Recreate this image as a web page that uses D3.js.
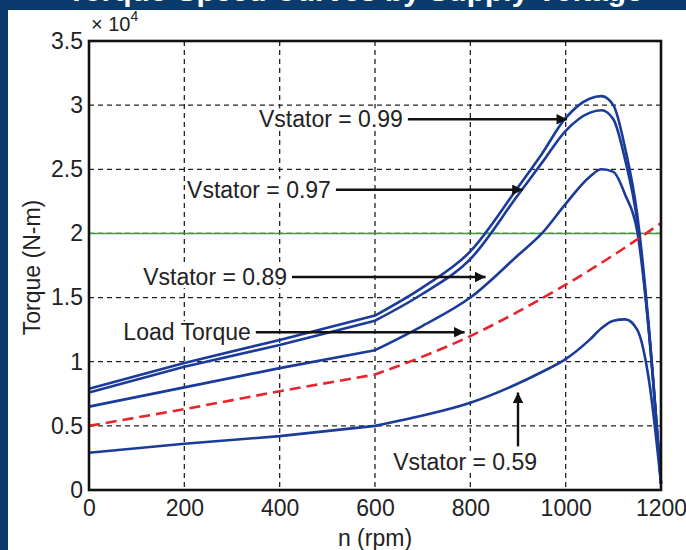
<!DOCTYPE html>
<html>
<head>
<meta charset="utf-8">
<script src="https://cdn.jsdelivr.net/npm/d3@7"></script>
<style>
  html, body { margin: 0; padding: 0; background: #0b3a6c; }
  svg { display: block; }
  text { font-family: "Liberation Sans", Arial, sans-serif; }
</style>
</head>
<body>
<div id="chart"></div>
<script>
// speed points (rpm)
var speeds = [0, 200, 400, 600, 700, 800, 900, 950, 1000, 1050, 1075, 1100, 1125, 1150, 1175, 1200];

// torque, x 10^4 N-m
var v099 = [0.79, 0.99, 1.17, 1.36, 1.58, 1.86, 2.36, 2.62, 2.90, 3.05, 3.07, 3.00, 2.66, 2.15, 1.25, 0.05];
var v097 = [0.76, 0.96, 1.13, 1.32, 1.53, 1.80, 2.30, 2.55, 2.80, 2.94, 2.96, 2.89, 2.57, 2.10, 1.22, 0.05];
var v089 = [0.65, 0.80, 0.95, 1.09, 1.28, 1.50, 1.83, 2.00, 2.23, 2.44, 2.50, 2.48, 2.30, 2.02, 1.22, 0.05];
var v059 = [0.29, 0.36, 0.42, 0.50, 0.58, 0.68, 0.83, 0.92, 1.02, 1.17, 1.26, 1.32, 1.33, 1.25, 0.85, 0.05];

var loadSpeeds = [0, 200, 400, 600, 700, 800, 900, 1000, 1100, 1200];
var loadTorque = [0.50, 0.63, 0.77, 0.90, 1.04, 1.20, 1.39, 1.60, 1.83, 2.08];

var ratedTorque = 2.0;

var xTicks = [0, 200, 400, 600, 800, 1000, 1200];
var yTicks = [0, 0.5, 1, 1.5, 2, 2.5, 3, 3.5];

var W = 686, H = 550;
var margin = {top: 41, right: 25, bottom: 60, left: 89};
var width = 661 - margin.left;
var height = 490 - margin.top;
var fs = 23;

var svg = d3.select("#chart").append("svg")
    .attr("width", W)
    .attr("height", H);

// white page area with navy frame on top and left
svg.append("rect").attr("x", 0).attr("y", 0).attr("width", W).attr("height", H).attr("fill", "#0b3a6c");
svg.append("rect").attr("x", 8).attr("y", 10).attr("width", W - 8).attr("height", H - 10).attr("fill", "#ffffff");

// slide title, mostly cut off at the top edge
svg.append("text")
    .attr("x", 355).attr("y", 1)
    .attr("text-anchor", "middle")
    .attr("font-size", 30)
    .attr("font-weight", "bold")
    .attr("fill", "#ffffff")
    .text("Torque-Speed Curves by Supply Voltage");

var x = d3.scaleLinear().domain([0, 1200]).range([0, width]);
var y = d3.scaleLinear().domain([0, 3.5]).range([height, 0]);

var g = svg.append("g")
    .attr("transform", "translate(" + margin.left + "," + margin.top + ")");

// dashed grid
g.append("g")
    .selectAll("line")
    .data(xTicks.slice(1, -1))
    .enter().append("line")
    .attr("x1", function(d) { return x(d); })
    .attr("x2", function(d) { return x(d); })
    .attr("y1", 0).attr("y2", height)
    .attr("stroke", "#222").attr("stroke-width", 1.3)
    .attr("stroke-dasharray", "5,4");

g.append("g")
    .selectAll("line")
    .data(yTicks.slice(1, -1))
    .enter().append("line")
    .attr("y1", function(d) { return y(d); })
    .attr("y2", function(d) { return y(d); })
    .attr("x1", 0).attr("x2", width)
    .attr("stroke", "#222").attr("stroke-width", 1.3)
    .attr("stroke-dasharray", "5,4");

// green rated torque line
g.append("line")
    .attr("x1", x(0)).attr("x2", x(1200))
    .attr("y1", y(ratedTorque)).attr("y2", y(ratedTorque))
    .attr("stroke", "#3c9c3c").attr("stroke-width", 1.6);

var straight = d3.line()
    .x(function(d) { return x(d[0]); })
    .y(function(d) { return y(d[1]); });
var smooth = d3.line()
    .x(function(d) { return x(d[0]); })
    .y(function(d) { return y(d[1]); })
    .curve(d3.curveMonotoneX);

// straight up to 600 rpm, smooth after the kink
function drawCurve(xs, vals, stroke, dash) {
    var pts = d3.zip(xs, vals);
    var a = pts.filter(function(p) { return p[0] <= 600; });
    var b = pts.filter(function(p) { return p[0] >= 600; });
    var path = g.append("path")
        .attr("d", straight(a) + smooth(b).replace(/^M/, "L"))
        .attr("fill", "none")
        .attr("stroke", stroke)
        .attr("stroke-width", 2.6)
        .attr("stroke-linejoin", "round");
    if (dash) path.attr("stroke-dasharray", dash);
}

[v099, v097, v089, v059].forEach(function(vals) {
    drawCurve(speeds, vals, "#1b3b9b");
});
drawCurve(loadSpeeds, loadTorque, "#e8232b", "11,6");

// axes
var xAxis = g.append("g")
    .attr("transform", "translate(0," + height + ")")
    .call(d3.axisBottom(x).tickValues(xTicks).tickSize(0).tickPadding(10).tickFormat(d3.format("d")));
var yAxis = g.append("g")
    .call(d3.axisLeft(y).tickValues(yTicks).tickSize(0).tickPadding(6).tickFormat(function(d) { return d; }));
[xAxis, yAxis].forEach(function(a) {
    a.select(".domain").remove();
    a.selectAll("text")
        .attr("font-family", "Liberation Sans, Arial, sans-serif")
        .attr("font-size", fs)
        .attr("fill", "#222");
});

// frame
g.append("rect")
    .attr("x", 0).attr("y", 0)
    .attr("width", width).attr("height", height)
    .attr("fill", "none")
    .attr("stroke", "#111").attr("stroke-width", 2.6);

// exponent
var expo = svg.append("text")
    .attr("x", 91).attr("y", 31)
    .attr("font-size", 20).attr("fill", "#222");
expo.append("tspan").text("\u00d7 10");
expo.append("tspan").attr("font-size", 14).attr("dy", -10).text("4");

// axis titles
svg.append("text")
    .attr("x", margin.left + width / 2).attr("y", 546)
    .attr("text-anchor", "middle")
    .attr("font-size", fs).attr("fill", "#222")
    .text("n (rpm)");

svg.append("text")
    .attr("transform", "translate(40," + (margin.top + height / 2 + 2) + ") rotate(-90)")
    .attr("text-anchor", "middle")
    .attr("font-size", fs).attr("fill", "#222")
    .text("Torque (N-m)");

// annotations with arrows
var labels = ["Vstator = 0.99", "Vstator = 0.97", "Vstator = 0.89", "Load Torque"];
var labelAt = [[669, 2.89], [518, 2.34], [426, 1.66], [350, 1.23]];
var arrowTo = [[1003, 2.89], [910, 2.34], [832, 1.66], [788, 1.23]];

var defs = svg.append("defs");
defs.append("marker")
    .attr("id", "head")
    .attr("viewBox", "0 0 10 10")
    .attr("refX", 10).attr("refY", 5)
    .attr("markerWidth", 6).attr("markerHeight", 4.4)
    .attr("markerUnits", "strokeWidth")
    .attr("orient", "auto")
    .append("path").attr("d", "M0,0 L10,5 L0,10 z").attr("fill", "#111");

function label(tx, ty, txt) {
    var t = g.append("text")
        .attr("x", tx).attr("y", ty)
        .attr("dy", "0.35em")
        .attr("text-anchor", "end")
        .attr("font-size", fs).attr("fill", "#222")
        .text(txt);
    var bb = t.node().getBBox();
    g.insert("rect", function() { return t.node(); })
        .attr("x", bb.x - 2).attr("y", bb.y + 2)
        .attr("width", bb.width + 4).attr("height", bb.height - 4)
        .attr("fill", "#ffffff");
}

labels.forEach(function(lbl, i) {
    var tx = x(labelAt[i][0]);
    var ty = y(labelAt[i][1]);
    label(tx - 5, ty, lbl);
    g.append("line")
        .attr("x1", tx).attr("y1", ty)
        .attr("x2", x(arrowTo[i][0])).attr("y2", y(arrowTo[i][1]))
        .attr("stroke", "#111").attr("stroke-width", 2.4)
        .attr("marker-end", "url(#head)");
});

// Vstator = 0.59, vertical arrow
label(x(940), y(0.22), "Vstator = 0.59");
g.append("line")
    .attr("x1", x(900)).attr("y1", y(0.34))
    .attr("x2", x(900)).attr("y2", y(0.76))
    .attr("stroke", "#111").attr("stroke-width", 2.4)
    .attr("marker-end", "url(#head)");
</script>
</body>
</html>
